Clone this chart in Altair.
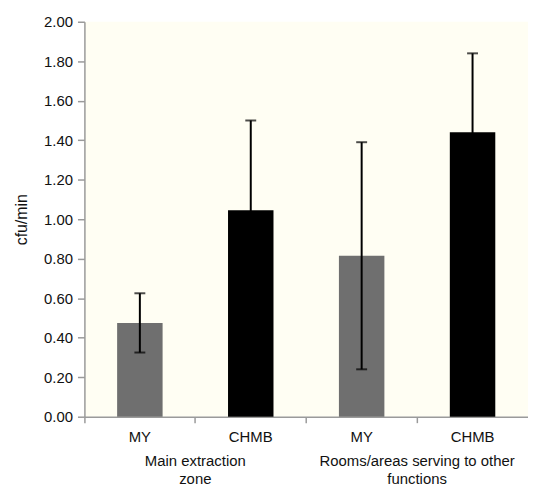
import altair as alt
import pandas as pd

# data
positions = [0, 1, 2, 3]
categories = ["MY", "CHMB", "MY", "CHMB"]
means = [0.475, 1.045, 0.815, 1.44]
sds = [0.15, 0.455, 0.575, 0.40]
group_pos = [0, 2]
group_labels = [["Main extraction", "zone"], ["Rooms/areas serving to other", "functions"]]
y_ticks = [0.0, 0.2, 0.4, 0.6, 0.8, 1.0, 1.2, 1.4, 1.6, 1.8, 2.0]

df = pd.DataFrame({
    "pos": positions,
    "cat": categories,
    "mean": means,
    "lo": [m - s for m, s in zip(means, sds)],
    "hi": [m + s for m, s in zip(means, sds)],
})
gdf = pd.DataFrame({"pos": group_pos, "label": group_labels})

W, H = 447, 398
FONT = "Liberation Sans"
FS = 15
label_expr = "[" + ",".join(f"'{c}'" for c in categories) + "][datum.value]"

x_scale = alt.Scale(paddingInner=0, paddingOuter=0, domain=positions)
x_axis = alt.Axis(
    title=None, labelExpr=label_expr, labelAngle=0, bandPosition=0,
    domainColor="#9a9a9a", tickColor="#9a9a9a", tickSize=6, tickWidth=1.5,
    domainWidth=1.5, labelPadding=7, labelFontSize=FS, labelFont=FONT,
    labelColor="#111",
)
y_scale = alt.Scale(domain=[0, 2], nice=False, zero=True)
y_axis = alt.Axis(
    title="cfu/min", values=y_ticks, format=".2f", grid=False,
    domainColor="#9a9a9a", tickColor="#9a9a9a", tickSize=7, tickWidth=1.5,
    domainWidth=1.5, labelPadding=5, labelFontSize=FS, labelFont=FONT,
    labelColor="#111", titleFont=FONT, titleFontSize=16, titleFontWeight="normal",
    titlePadding=14, titleColor="#111", labelOverlap=False,
)


def X(**kw):
    return alt.X("pos:O", scale=x_scale, axis=x_axis, **kw)


def Y(field):
    return alt.Y(field, scale=y_scale, axis=y_axis)


color = alt.Color(
    "cat:N",
    scale=alt.Scale(domain=["MY", "CHMB"], range=["#6f6f6f", "#000000"]),
    legend=None,
)

bars = alt.Chart(df).mark_bar(width=alt.RelativeBandSize(0.41)).encode(
    x=X(), y=Y("mean:Q"), color=color
)

rule = alt.Chart(df).mark_rule(color="#000", strokeWidth=2).encode(
    x=X(), y=Y("lo:Q"), y2="hi:Q"
)
cap_hi = alt.Chart(df).mark_tick(color="#000", size=11, thickness=2).encode(
    x=X(), y=Y("hi:Q")
)
cap_lo = alt.Chart(df).mark_tick(color="#000", size=11, thickness=2).encode(
    x=X(), y=Y("lo:Q")
)

groups = alt.Chart(gdf).mark_text(
    font=FONT, fontSize=FS, baseline="top", align="center", lineHeight=17.5,
    color="#111",
).encode(
    x=X(bandPosition=1),
    y=alt.value(H + 38),
    text="label",
)

chart = alt.layer(bars, rule, cap_hi, cap_lo, groups).properties(
    width=W, height=H,
    padding={"left": 5, "top": 5, "right": 0, "bottom": 0},
).configure_view(fill="#fffef3", stroke=None)

chart.save("out.html", embed_options={"renderer": "svg", "actions": False})
